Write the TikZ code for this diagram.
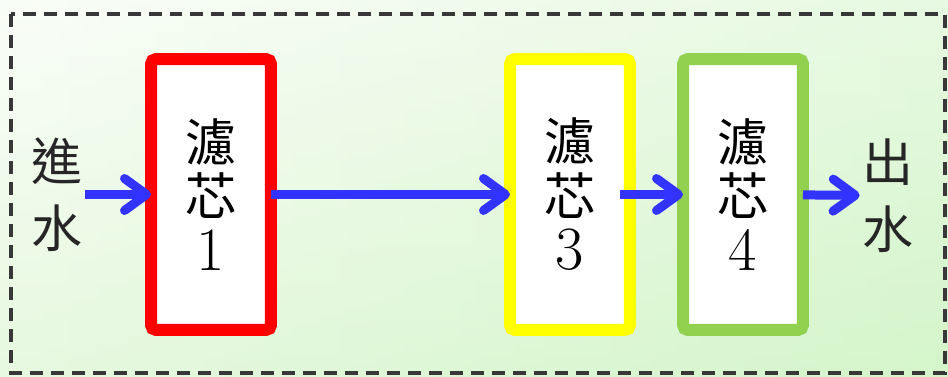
\documentclass[tikz,border=0pt]{standalone}
\usepackage{fontspec}
\newfontfamily\cjk{Noto Sans CJK TC}
\newfontfamily\numfont{Latin Modern Roman}
\usetikzlibrary{arrows.meta}

\definecolor{filterred}{HTML}{FF0000}
\definecolor{filteryellow}{HTML}{FFFF00}
\definecolor{filtergreen}{HTML}{92D050}
\definecolor{flowblue}{HTML}{3333FF}
\definecolor{framegray}{HTML}{383838}
\definecolor{bgwhite}{HTML}{F6FCF2}
\definecolor{bggreen}{HTML}{D4F5CA}

\tikzset{
	filter/.style={draw, line width=0.24cm, fill=white, rounded corners=0.1cm, outer sep=0pt,
		minimum width=2.4cm, minimum height=5.42cm, align=center, font=\cjk\fontsize{29}{31}\selectfont},
	flow/.style={draw=flowblue, line width=0.18cm, -{Straight Barb[length=0.44cm, width=0.64cm, round]}},
	water/.style={align=center, inner sep=0.05cm, text=black!85, font=\cjk\fontsize{29}{38}\selectfont}
}
\newcommand\filterno[1]{{\numfont\fontsize{35}{31}\selectfont #1}}

\begin{document}
\begin{tikzpicture}[x=0.02cm, y=-0.02cm]
	\useasboundingbox (0,0) rectangle (948,376);
	\shade [left color=bgwhite, right color=bggreen] (0,0) rectangle (948,376);
	\shade [top color=white, bottom color=bggreen, opacity=0.45] (0,0) rectangle (948,376);
	\draw [framegray, line width=0.08cm, dash pattern=on 0.26cm off 0.16cm] (11,14) rectangle (945,373);

	\node [water] (in) at (57,194.5) {進\\水};
	\node [water] (out) at (888,195.5) {出\\水};

	\node [filter, draw=filterred] (f1) at (211,194.5) {濾\\芯\\\filterno{1}};
	\node [filter, draw=filteryellow] (f3) at (570,194.5) {濾\\芯\\\filterno{3}};
	\node [filter, draw=filtergreen] (f4) at (743,194.5) {濾\\芯\\\filterno{4}};

	\draw [flow] (in) -- (f1);
	\draw [flow] (f1) -- (f3);
	\draw [flow, shorten <=-0.2cm] (f3) -- (f4);
	\draw [flow] (f4) -- (out);
%	\draw [step=50, gray] (0,0) grid (948,376);
\end{tikzpicture}
\end{document}
